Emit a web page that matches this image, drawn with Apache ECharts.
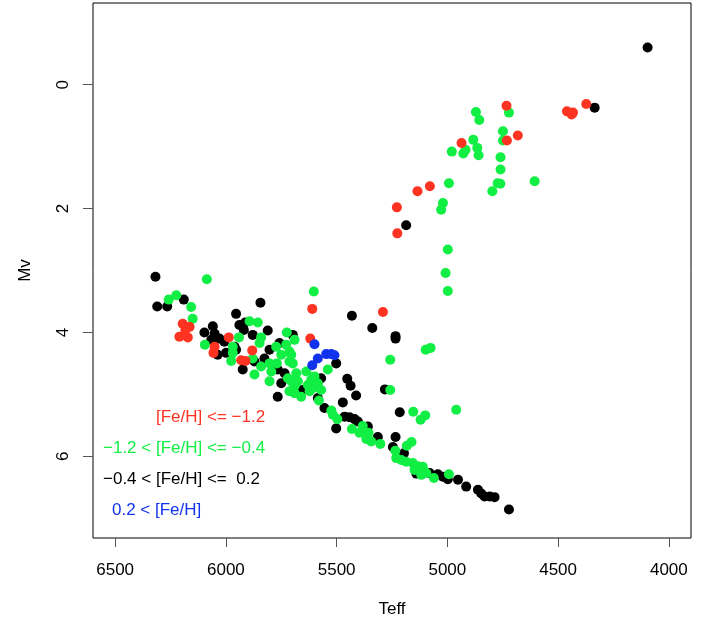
<!DOCTYPE html>
<html>
<head>
<meta charset="utf-8">
<script src="https://cdn.jsdelivr.net/npm/echarts@6/dist/echarts.min.js"></script>
<style>
  html, body { margin: 0; padding: 0; background: #fff; }
  #chart { width: 712px; height: 624px; }
</style>
</head>
<body>
<div id="chart"></div>
<script>
// [Teff, Mv] per metallicity group
const metalPoor = [ // [Fe/H] <= -1.2
  [4373, 0.31], [4460, 0.43], [4433, 0.45], [4439, 0.48], [4733, 0.34], [4682, 0.82],
  [4731, 0.90], [4936, 0.94], [5079, 1.64], [5135, 1.72], [5228, 1.98], [5226, 2.40],
  [5291, 3.67], [5610, 3.62], [5619, 4.10], [6195, 3.86], [6164, 3.91], [6183, 3.96],
  [6210, 4.07], [6172, 4.08], [6051, 4.23], [6056, 4.33], [5987, 4.08], [5881, 4.29],
  [5931, 4.45], [5912, 4.46]
];
const intermediate = [ // -1.2 < [Fe/H] <= -0.4
  [4871, 0.44], [4856, 0.57], [4722, 0.45], [4749, 0.75], [4749, 0.90], [4883, 0.89],
  [4918, 1.05], [4928, 1.11], [4865, 1.02], [4859, 1.14], [4980, 1.08], [4760, 1.17],
  [4760, 1.37], [4773, 1.59], [4761, 1.60], [4797, 1.72], [4606, 1.56], [4993, 1.59],
  [5020, 1.91], [5028, 2.02], [4998, 2.66], [5008, 3.04], [4998, 3.33], [5098, 4.28],
  [5076, 4.25], [4960, 5.25], [5100, 5.34], [5121, 5.41], [5154, 5.28], [5258, 4.93],
  [5258, 4.44],
  [6086, 3.14], [6258, 3.47], [6224, 3.40], [6157, 3.59], [6150, 3.78], [6095, 4.20],
  [5969, 4.23], [5976, 4.46], [5969, 4.33], [5941, 4.08], [5893, 3.82], [5856, 3.84],
  [5841, 4.08], [5848, 4.17], [5879, 4.42], [5841, 4.55], [5871, 4.68], [5803, 4.50],
  [5795, 4.63], [5803, 4.79], [5770, 4.50], [5750, 4.36], [5773, 4.23], [5728, 4.20],
  [5713, 4.31], [5705, 4.36], [5725, 4.00], [5690, 4.12], [5713, 4.47], [5698, 4.50],
  [5720, 4.74], [5682, 4.66], [5705, 4.79], [5690, 4.87], [5713, 4.95], [5675, 4.79],
  [5690, 4.98], [5660, 5.04], [5637, 4.63], [5630, 4.85], [5615, 4.77], [5622, 4.95],
  [5608, 4.90], [5600, 4.71], [5585, 4.82], [5570, 4.93], [5540, 4.60], [5603, 3.34],
  [5580, 5.10],
  [5524, 5.26], [5517, 5.33], [5497, 5.40], [5431, 5.56], [5382, 5.51], [5397, 5.62],
  [5356, 5.62], [5366, 5.72], [5344, 5.76], [5303, 5.80], [5183, 5.83], [5162, 5.77],
  [5235, 5.91], [5231, 6.03], [5208, 6.06], [5186, 6.09], [5156, 6.11], [5133, 6.16],
  [5148, 6.22], [5111, 6.17], [5118, 6.30], [5095, 6.27], [5061, 6.35], [4993, 6.29]
];
const solar = [ // -0.4 < [Fe/H] <= 0.2
  [4096, -0.60], [4335, 0.37], [5186, 2.27],
  [6318, 3.10], [6310, 3.58], [6265, 3.58], [6190, 3.47], [5844, 3.52], [5954, 3.70],
  [5913, 3.84], [5431, 3.73], [5339, 3.93], [5234, 4.06], [5234, 4.10], [6059, 3.90],
  [6097, 4.00], [5939, 3.88], [5919, 3.96], [5811, 3.97], [5879, 4.04], [6051, 4.02],
  [6029, 4.10], [6007, 4.15], [6066, 4.12], [6037, 4.36], [5961, 4.23], [5999, 4.33],
  [5954, 4.28], [5924, 4.60], [5871, 4.47], [5826, 4.42], [5803, 4.28], [5766, 4.60],
  [5758, 4.17], [5698, 4.04], [5735, 4.66], [5750, 4.82], [5766, 5.04], [5653, 4.93],
  [5585, 5.06], [5570, 4.74], [5502, 4.50], [5452, 4.75], [5437, 4.86], [5412, 5.02],
  [5472, 5.13], [5282, 4.92], [5215, 5.29], [5555, 5.22], [5502, 5.55], [5464, 5.36],
  [5442, 5.37], [5419, 5.40], [5404, 5.44], [5359, 5.52], [5314, 5.69], [5234, 5.69],
  [5246, 5.85], [5196, 5.95], [5140, 6.28], [5080, 6.27], [5043, 6.29], [5020, 6.33],
  [4998, 6.37], [4952, 6.38], [4915, 6.49], [4862, 6.54], [4847, 6.60], [4832, 6.65],
  [4809, 6.65], [4787, 6.66], [4722, 6.86]
];
const metalRich = [ // 0.2 < [Fe/H]
  [5600, 4.19], [5585, 4.42], [5547, 4.35], [5524, 4.35], [5510, 4.37], [5610, 4.53]
];

const xTicks = [4000, 4500, 5000, 5500, 6000, 6500];
const yTicks = [0, 2, 4, 6];

const legendLines = [
  "[Fe/H] <= \u22121.2",
  "\u22121.2 < [Fe/H] <= \u22120.4",
  "\u22120.4 < [Fe/H] <=  0.2",
  "0.2 < [Fe/H]"
];

const RED = "#ff3322", GREEN = "#11ee44", BLACK = "#000000", BLUE = "#1133ee";
const FONT = "'Liberation Sans', Arial, Helvetica, sans-serif";

const chart = echarts.init(document.getElementById("chart"));

function pts(data, color) {
  return {
    type: "scatter",
    data: data,
    symbol: "circle",
    symbolSize: 10,
    itemStyle: { color: color, opacity: 1 },
    animation: false,
    silent: true
  };
}

// legend text: left edge / vertical centre
const legendPos = [[156, 416], [103, 447], [103, 478], [112, 509]];
const legendColors = [RED, GREEN, BLACK, BLUE];

chart.setOption({
  animation: false,
  backgroundColor: "#fff",
  textStyle: { fontFamily: FONT },
  grid: {
    left: 93, right: 21, top: 3, bottom: 86,
    show: true, borderColor: "#000", borderWidth: 1, backgroundColor: "transparent"
  },
  xAxis: {
    type: "value",
    inverse: true,
    min: 3900, max: 6600,
    name: "Teff",
    nameLocation: "middle",
    nameGap: 63,
    nameTextStyle: { fontSize: 17, color: "#000", fontFamily: FONT },
    axisLine: { show: false, onZero: false },
    axisTick: { show: true, inside: false, length: 9, customValues: xTicks, lineStyle: { color: "#555" } },
    axisLabel: {
      customValues: xTicks, fontSize: 17, color: "#000", margin: 24, fontFamily: FONT,
      formatter: v => String(v)
    },
    splitLine: { show: false }
  },
  yAxis: {
    type: "value",
    inverse: true,
    min: -1.32, max: 7.32,
    name: "Mv",
    nameLocation: "middle",
    nameGap: 59,
    nameTextStyle: { fontSize: 17, color: "#000", fontFamily: FONT },
    axisLine: { show: false, onZero: false },
    axisTick: { show: true, inside: false, length: 10, customValues: yTicks, lineStyle: { color: "#555" } },
    axisLabel: {
      customValues: yTicks, rotate: 90, fontSize: 17, color: "#000", margin: 21, fontFamily: FONT,
      formatter: v => String(v)
    },
    splitLine: { show: false }
  },
  series: [
    pts(solar, BLACK),
    pts(intermediate, GREEN),
    pts(metalPoor, RED),
    pts(metalRich, BLUE)
  ],
  graphic: legendLines.map((t, i) => ({
    type: "text",
    left: legendPos[i][0],
    top: legendPos[i][1] - 7,
    z: 100,
    style: { text: t, fill: legendColors[i], font: "17px " + FONT }
  }))
});
</script>
</body>
</html>
